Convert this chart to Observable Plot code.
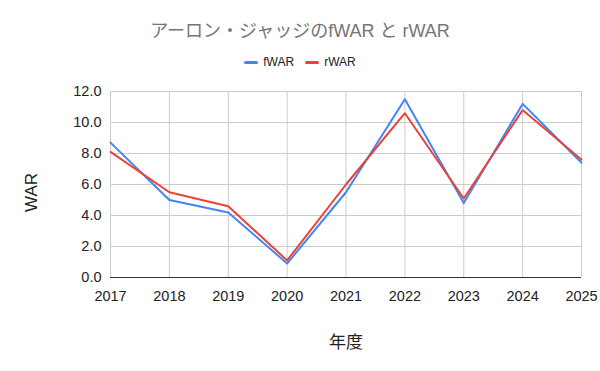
<!DOCTYPE html>
<html><head><meta charset="utf-8">
<script src="https://cdn.jsdelivr.net/npm/d3@7"></script>
<script src="https://cdn.jsdelivr.net/npm/@observablehq/plot@0.6"></script>
<style>
body{margin:0;background:#fff;font-family:"Liberation Sans",Arial,"Noto Sans CJK JP",sans-serif;}
#wrap{width:600px;}
#head{position:relative;height:80px;}
#title{position:absolute;left:0;right:0;top:20px;line-height:22px;text-align:center;font-size:18px;color:#757575;}
#legend{position:absolute;left:0;right:0;top:55px;height:14px;display:flex;justify-content:center;align-items:center;gap:11px;font-size:12px;color:#222;}
.item{display:flex;align-items:center;gap:5px;}
.sw{width:14px;height:3px;border-radius:1.5px;}
</style></head>
<body><div id="wrap"><div id="head"><div id="title"></div><div id="legend"></div></div><div id="chart"></div></div>
<script>
const titleText = "アーロン・ジャッジのfWAR と rWAR";
const xLabel = "年度";
const yLabel = "WAR";
const years = [2017, 2018, 2019, 2020, 2021, 2022, 2023, 2024, 2025];
const fWAR = [8.7, 5.0, 4.2, 0.9, 5.5, 11.5, 4.8, 11.2, 7.4];
const rWAR = [8.1, 5.5, 4.6, 1.1, 6.0, 10.6, 5.1, 10.8, 7.6];
const seriesNames = ["fWAR", "rWAR"];
const seriesColors = ["#4285F4", "#EA4335"];
const yTicks = [0, 2, 4, 6, 8, 10, 12];

document.getElementById("title").textContent = titleText;
const leg = document.getElementById("legend");
seriesNames.forEach((n, i) => {
  const it = document.createElement("div"); it.className = "item";
  const sw = document.createElement("div"); sw.className = "sw"; sw.style.background = seriesColors[i];
  const t = document.createElement("span"); t.textContent = n;
  it.appendChild(sw); it.appendChild(t); leg.appendChild(it);
});

const data = [];
years.forEach((y, i) => {
  data.push({year: y, value: fWAR[i], series: seriesNames[0]});
  data.push({year: y, value: rWAR[i], series: seriesNames[1]});
});

const font = '"Liberation Sans", Arial, "Noto Sans CJK JP", sans-serif';
const chart = Plot.plot({
  width: 600,
  height: 291,
  marginTop: 11,
  marginBottom: 94,
  marginLeft: 110,
  marginRight: 19,
  style: {fontFamily: font, background: "#fff", color: "#222"},
  x: {domain: [2017, 2025], ticks: years, tickFormat: "d", label: null},
  y: {domain: [0, 12], ticks: yTicks, label: null},
  color: {domain: seriesNames, range: seriesColors},
  marks: [
    Plot.gridY(yTicks, {stroke: "#cccccc", strokeOpacity: 1}),
    Plot.gridX(years, {stroke: "#cccccc", strokeOpacity: 1}),
    Plot.ruleY([0], {stroke: "#333", strokeWidth: 1}),
    Plot.axisX(years, {tickSize: 0, tickPadding: 13, tickFormat: "d", fontSize: 14.5, fill: "#222", label: null}),
    Plot.axisY(yTicks, {tickSize: 0, tickPadding: 9, tickFormat: d3.format(".1f"), fontSize: 14.5, fill: "#222", label: null}),
    Plot.line(data, {x: "year", y: "value", z: "series", stroke: "series", strokeWidth: 2, curve: "linear"}),
    Plot.text([xLabel], {frameAnchor: "bottom", dy: 70, fontSize: 17, fill: "#222", text: d => d})
  ]
});
d3.select(chart).append("text")
  .attr("transform", "translate(31,112.5) rotate(-90)")
  .attr("text-anchor", "middle")
  .attr("dominant-baseline", "central")
  .attr("font-size", 17)
  .attr("fill", "#222")
  .text(yLabel);
document.getElementById("chart").appendChild(chart);
</script></body></html>
